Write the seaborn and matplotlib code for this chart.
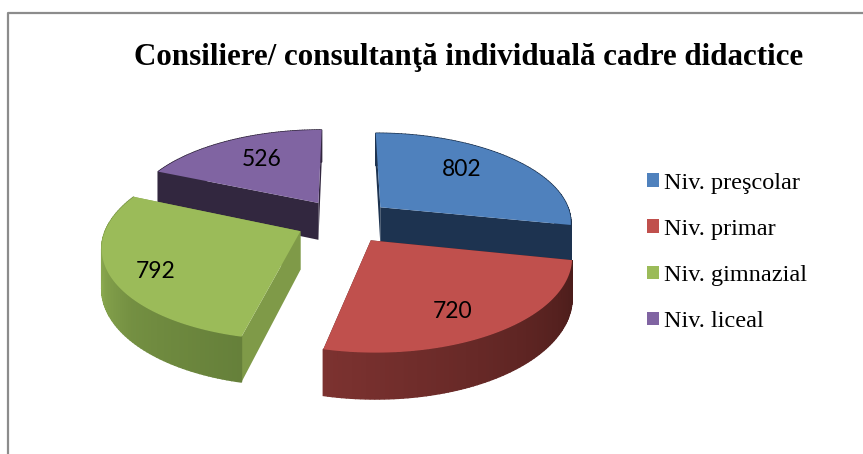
import numpy as np
import seaborn as sns
import matplotlib.pyplot as plt
from matplotlib.patches import Patch, Polygon

# datos
categorias = ["Niv. preşcolar", "Niv. primar", "Niv. gimnazial", "Niv. liceal"]
valores = [802, 720, 792, 526]
titulo = "Consiliere/ consultanţă individuală cadre didactice"

# colores
colores = ["#4f81bd", "#c0504d", "#9bbb59", "#8064a2"]
color_cara = ["#1d3350", "#4d1d1b", "#7f9a48", "#32273f"]
borde_ini = ["#1d3350", "#7c3230", "#8cab50", "#32273f"]
borde_fin = ["#1d3350", "#4a1c1a", "#66803a", "#32273f"]

# geometria del pastel en pixeles
cx, cy = 344, 221
rx, ry = 192, 89
persp = 0.15
explode = 0.25
alto = 38
inicio = 0

sns.set_theme(style="white")
plt.rcParams["font.family"] = ["Liberation Serif", "DejaVu Serif"]

fig = plt.figure(figsize=(8.63, 4.54), dpi=100)
ax = fig.add_axes([0, 0, 1, 1])
ax.set_xlim(0, 863)
ax.set_ylim(454, 0)
ax.axis("off")


def proyectar(X, Y, z=0):
    w = 1 + persp * Y
    return cx + rx * X / w, cy - ry * Y / w + z / w


angulos = np.cumsum([0] + valores) / sum(valores) * 360 + inicio

# orden de dibujo: de atras hacia adelante
for i in [3, 0, 2, 1]:
    a0, a1 = angulos[i], angulos[i + 1]
    medio = np.radians((a0 + a1) / 2)
    ox, oy = explode * np.sin(medio), explode * np.cos(medio)
    t = np.radians(np.linspace(a0, a1, 80))
    X = ox + np.sin(t)
    Y = oy + np.cos(t)

    # caras radiales
    for k in [0, -1]:
        cara = [proyectar(ox, oy), proyectar(X[k], Y[k]),
                proyectar(X[k], Y[k], alto), proyectar(ox, oy, alto)]
        ax.add_patch(Polygon(cara, color=color_cara[i], lw=0))

    # borde exterior con degradado
    tonos = sns.blend_palette([borde_ini[i], borde_fin[i]], len(t) - 1)
    xs, _ = proyectar(X, Y)
    orden = np.argsort(np.argsort(xs[:-1]))
    for j in range(len(t) - 1):
        quad = [proyectar(X[j], Y[j]), proyectar(X[j + 1], Y[j + 1]),
                proyectar(X[j + 1], Y[j + 1], alto), proyectar(X[j], Y[j], alto)]
        ax.add_patch(Polygon(quad, color=tonos[orden[j]], lw=1))

    # cara superior
    sup_x, sup_y = proyectar(np.r_[ox, X], np.r_[oy, Y])
    ax.fill(sup_x, sup_y, color=colores[i], lw=0)

# etiquetas de valores
pos_etiquetas = [(462, 170), (453, 312), (156, 272), (262, 160)]
for v, (x, y) in zip(valores, pos_etiquetas):
    ax.text(x, y, str(v), ha="center", va="center", fontsize=16.5,
            family=["Lato", "DejaVu Sans"], color="black")

# marco
ax.plot([8, 8, 863], [454, 13, 13], color="#8c8c8c", lw=1.6, solid_capstyle="butt")

ax.text(469, 57, titulo, ha="center", va="center", fontsize=22.3, fontweight="bold", color="black")

handles = [Patch(facecolor=c, edgecolor="none", label=n) for c, n in zip(colores, categorias)]
leg = ax.legend(handles=handles, loc="upper left", bbox_to_anchor=(647 / 863, 1 - 173 / 454),
                frameon=False, fontsize=17.5, handlelength=0.5, handleheight=0.5,
                handletextpad=0.2, labelspacing=1.03, borderpad=0, borderaxespad=0,
                labelcolor="black")

fig.savefig("out.png", dpi=100)
